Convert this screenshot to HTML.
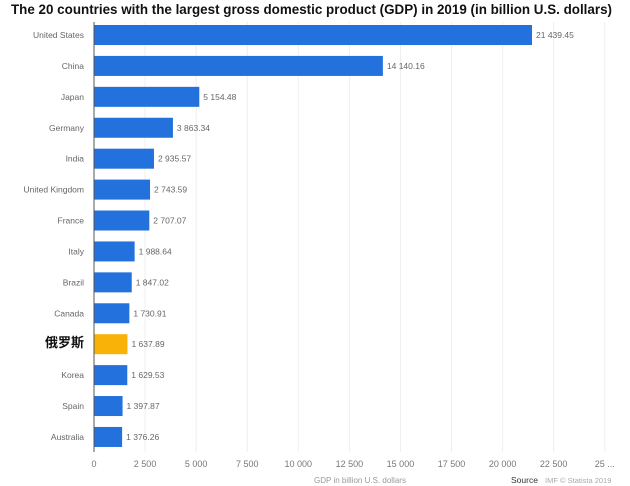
<!DOCTYPE html>
<html><head><meta charset="utf-8"><style>
body{margin:0;background:#fff;width:630px;height:486px;overflow:hidden}
svg{display:block;font-family:"Liberation Sans","Noto Sans CJK SC",sans-serif}
</style></head><body>
<svg id="c" width="630" height="486">
<text x="11" y="14" textLength="601" lengthAdjust="spacingAndGlyphs" font-size="13.5" font-weight="bold" fill="#111">The 20 countries with the largest gross domestic product (GDP) in 2019 (in billion U.S. dollars)</text>
<g id="grid"></g><g id="bars"></g><g id="xt"></g>
<text x="360" y="483" text-anchor="middle" font-size="8" fill="#999">GDP in billion U.S. dollars</text>
<text x="511" y="483" font-size="8.5" fill="#333">Source</text>
<text x="545" y="483" font-size="7.5" fill="#aaa">IMF  © Statista 2019</text>
</svg>
<script>
const categories=["United States","China","Japan","Germany","India","United Kingdom","France","Italy","Brazil","Canada","俄罗斯","Korea","Spain","Australia"];
const values=[21439.45,14140.16,5154.48,3863.34,2935.57,2743.59,2707.07,1988.64,1847.02,1730.91,1637.89,1629.53,1397.87,1376.26];
const valueLabels=["21 439.45","14 140.16","5 154.48","3 863.34","2 935.57","2 743.59","2 707.07","1 988.64","1 847.02","1 730.91","1 637.89","1 629.53","1 397.87","1 376.26"];
const ticks=[0,2500,5000,7500,10000,12500,15000,17500,20000,22500,25000];
const tickLabels=["0","2 500","5 000","7 500","10 000","12 500","15 000","17 500","20 000","22 500","25 ..."];
const ns="http://www.w3.org/2000/svg";
const x0=94,scale=(532-94)/21439.45;
const X=v=>x0+v*scale;
const Y=i=>35+i*30.92;
function mk(t,a,p){const e=document.createElementNS(ns,t);for(const k in a)e.setAttribute(k,a[k]);p.appendChild(e);return e;}
const g=document.getElementById('grid'),b=document.getElementById('bars'),xt=document.getElementById('xt');
ticks.forEach((t,i)=>{
 const l=mk('line',{x1:X(t),x2:X(t),y1:22,y2:452,stroke:'#eee','stroke-width':1},g);
 
 
 const tx=mk('text',{x:X(t),y:467,'text-anchor':'middle','font-size':9,fill:'#777'},xt);
 tx.textContent=tickLabels[i];
 
 
});
categories.forEach((c,i)=>{
 const y=Y(i),ru=c==="俄罗斯";
 const r=mk('rect',{x:x0,y:y-10,width:X(values[i])-x0,height:20,fill:ru?'#f9b208':'#2271dc'},b);
 
 
 const lt=mk('text',{x:84,y:y+3,'text-anchor':'end','font-size':ru?13:8.5,fill:ru?'#111':'#666','font-weight':ru?'bold':'normal'},b);
 lt.textContent=c;
 
 
 const vt=mk('text',{x:X(values[i])+4,y:y+3,'font-size':8.5,fill:'#666'},b);
 vt.textContent=valueLabels[i];
 
 
});
const ax=mk('line',{x1:x0,x2:x0,y1:22,y2:452,stroke:'#555','stroke-width':1},b);


</script>
</body></html>
